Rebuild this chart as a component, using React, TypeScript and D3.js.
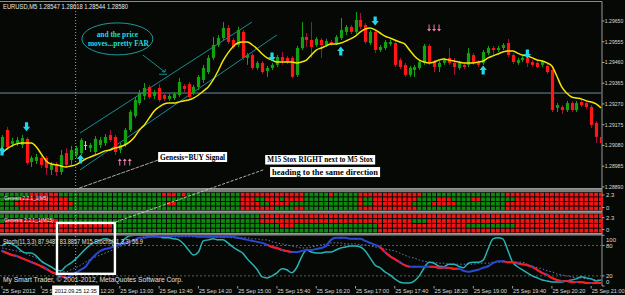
import React from "react";
import * as d3 from "d3";

// ---------- DATA ----------
const symbolHeader = "EURUSD,M5  1.28547 1.28618 1.28544 1.28580";
const priceTicks = [1.2965, 1.29555, 1.2946, 1.29365, 1.2927, 1.29175, 1.2908, 1.28985, 1.2889];
const timeLabels = [
  "25 Sep 2012", "25 Sep 11:40", "25 Sep 12:20", "25 Sep 13:00", "25 Sep 13:40", "25 Sep 14:20",
  "25 Sep 15:00", "25 Sep 15:40", "25 Sep 16:20", "25 Sep 17:00", "25 Sep 17:40", "25 Sep 18:20",
  "25 Sep 19:00", "25 Sep 19:40", "25 Sep 20:20", "25 Sep 21:00",
];
const timeLabelBars = [0, 8, 16, 24, 32, 40, 48, 56, 64, 72, 80, 88, 96, 104, 112, 120];

const opens = [
  1.29073, 1.29151, 1.29087, 1.29091, 1.29082, 1.2911, 1.29004, 1.29009, 1.29023, 1.29023,
  1.28968, 1.28995, 1.28958, 1.29045, 1.29013, 1.29036, 1.29045, 1.29082, 1.29068, 1.2905,
  1.29082, 1.29091, 1.29128, 1.29119, 1.29059, 1.29082, 1.29151, 1.29215, 1.29274, 1.29307,
  1.29348, 1.29307, 1.29343, 1.29311, 1.29293, 1.29297, 1.29311, 1.29352, 1.29361, 1.2932,
  1.29348, 1.2938, 1.29416, 1.29481, 1.2954, 1.29572, 1.29618, 1.29563, 1.2954, 1.296,
  1.29481, 1.29494, 1.29435, 1.29458, 1.29421, 1.29435, 1.29449, 1.29485, 1.29481, 1.29481,
  1.29403, 1.29526, 1.29577, 1.29563, 1.2954, 1.29563, 1.2954, 1.29554, 1.29549, 1.29572,
  1.296, 1.29623, 1.296, 1.29655, 1.29632, 1.29549, 1.296, 1.29517, 1.29526, 1.29545,
  1.29549, 1.29471, 1.29449, 1.29403, 1.29426, 1.29435, 1.29458, 1.29536, 1.29462, 1.29439,
  1.29458, 1.29481, 1.29458, 1.29435, 1.29449, 1.29449, 1.29494, 1.29462, 1.29458, 1.29503,
  1.29526, 1.29517, 1.29526, 1.29549, 1.29494, 1.29458, 1.29471, 1.29481, 1.29462, 1.29458,
  1.29449, 1.29444, 1.29426, 1.29252, 1.29256, 1.29242, 1.29274, 1.29242, 1.29279, 1.29274,
  1.29256, 1.29183, 1.29119,
];
const highs = [
  1.29128, 1.29165, 1.29114, 1.29119, 1.29128, 1.29119, 1.29032, 1.29041, 1.29032, 1.29032,
  1.29004, 1.29004, 1.29059, 1.29068, 1.29078, 1.29078, 1.29114, 1.291, 1.29091, 1.29123,
  1.29119, 1.29132, 1.29151, 1.29128, 1.29091, 1.2916, 1.29242, 1.29302, 1.29334, 1.29366,
  1.29357, 1.29334, 1.29361, 1.2932, 1.29316, 1.29325, 1.29389, 1.29361, 1.29371, 1.29357,
  1.29403, 1.29449, 1.29494, 1.29577, 1.29586, 1.29645, 1.29632, 1.29572, 1.29623, 1.29609,
  1.29503, 1.29503, 1.29467, 1.29467, 1.29444, 1.29458, 1.29494, 1.29508, 1.2949, 1.2949,
  1.29536, 1.29645, 1.29595, 1.29645, 1.29577, 1.29572, 1.29568, 1.29563, 1.29586, 1.29664,
  1.29632, 1.29632, 1.29691, 1.29687, 1.29641, 1.29609, 1.29609, 1.2954, 1.29563, 1.29563,
  1.29558, 1.29481, 1.29458, 1.29444, 1.29449, 1.29471, 1.29545, 1.29545, 1.29471, 1.29467,
  1.29481, 1.29526, 1.29481, 1.29467, 1.29458, 1.29526, 1.29503, 1.29471, 1.29517, 1.29536,
  1.29536, 1.29536, 1.29549, 1.29568, 1.29503, 1.29481, 1.2949, 1.2949, 1.29471, 1.29467,
  1.29471, 1.29453, 1.29435, 1.29274, 1.29265, 1.29284, 1.29284, 1.29284, 1.29288, 1.29284,
  1.29265, 1.29192, 1.29128,
];
const lows = [
  1.29059, 1.29059, 1.29073, 1.29078, 1.29068, 1.28991, 1.28981, 1.28995, 1.28977, 1.28945,
  1.28945, 1.2894, 1.28945, 1.28977, 1.28991, 1.29023, 1.29036, 1.29059, 1.2905, 1.29036,
  1.29068, 1.29078, 1.29096, 1.29036, 1.29045, 1.29073, 1.29142, 1.29206, 1.29265, 1.29288,
  1.29293, 1.29293, 1.29279, 1.29284, 1.29284, 1.29288, 1.29302, 1.29325, 1.29293, 1.29311,
  1.29334, 1.29366, 1.29407, 1.29471, 1.29531, 1.29563, 1.29545, 1.29522, 1.29531, 1.29471,
  1.29449, 1.29426, 1.29426, 1.29407, 1.29394, 1.29426, 1.29439, 1.29449, 1.29453, 1.29389,
  1.29394, 1.29517, 1.29531, 1.29481, 1.29531, 1.29481, 1.29531, 1.29536, 1.2954, 1.29563,
  1.29586, 1.2959, 1.2959, 1.29613, 1.29545, 1.2954, 1.29503, 1.29508, 1.29517, 1.29536,
  1.29439, 1.2943, 1.29394, 1.29394, 1.29394, 1.29426, 1.29449, 1.29449, 1.29416, 1.29416,
  1.29449, 1.29449, 1.29403, 1.29426, 1.2943, 1.29439, 1.29449, 1.29439, 1.29449, 1.29494,
  1.29494, 1.29508, 1.29517, 1.29485, 1.29453, 1.29449, 1.29462, 1.29439, 1.29439, 1.29435,
  1.29439, 1.29407, 1.29233, 1.29233, 1.29224, 1.29233, 1.29233, 1.29233, 1.29256, 1.29247,
  1.2916, 1.29091, 1.29082,
];
const closes = [
  1.29119, 1.29073, 1.291, 1.29105, 1.29114, 1.29, 1.29023, 1.29027, 1.28991, 1.28977,
  1.28991, 1.28958, 1.29036, 1.28991, 1.29059, 1.29068, 1.29105, 1.29082, 1.29082, 1.2911,
  1.29105, 1.29119, 1.29105, 1.2905, 1.29082, 1.29151, 1.29233, 1.29288, 1.2932, 1.29343,
  1.29302, 1.29325, 1.29288, 1.29293, 1.29307, 1.29316, 1.29371, 1.29339, 1.29302, 1.29348,
  1.29394, 1.29435, 1.29481, 1.2954, 1.29572, 1.29618, 1.29554, 1.29531, 1.29609, 1.29481,
  1.29494, 1.29435, 1.29458, 1.29416, 1.29435, 1.29449, 1.29485, 1.29467, 1.29462, 1.29394,
  1.29526, 1.29577, 1.29563, 1.29531, 1.29568, 1.2954, 1.29558, 1.29545, 1.29577, 1.29609,
  1.29623, 1.296, 1.29655, 1.29623, 1.29554, 1.296, 1.29517, 1.29531, 1.29554, 1.29554,
  1.29449, 1.29439, 1.29403, 1.29435, 1.29439, 1.29462, 1.29536, 1.29458, 1.29439, 1.29458,
  1.29471, 1.29458, 1.29439, 1.29458, 1.29439, 1.29503, 1.29458, 1.29449, 1.29508, 1.29526,
  1.29517, 1.29526, 1.2954, 1.29494, 1.29462, 1.29471, 1.29481, 1.29458, 1.29449, 1.29439,
  1.29462, 1.29416, 1.29242, 1.29265, 1.29242, 1.29274, 1.29242, 1.29274, 1.29265, 1.29256,
  1.29174, 1.29119, 1.29091,
];
const maValues = [
  1.29045, 1.29064, 1.29078, 1.29087, 1.29091, 1.29091, 1.29091, 1.29073, 1.29041, 1.29009,
  1.28995, 1.28991, 1.28986, 1.28981, 1.28986, 1.28991, 1.29004, 1.29018, 1.29027, 1.29036,
  1.29045, 1.29055, 1.29059, 1.29068, 1.29073, 1.29082, 1.29096, 1.29119, 1.29151, 1.29174,
  1.29206, 1.29238, 1.29256, 1.2927, 1.29274, 1.29274, 1.29279, 1.29284, 1.29288, 1.29297,
  1.29311, 1.29329, 1.29348, 1.2938, 1.29421, 1.29467, 1.29503, 1.29531, 1.29549, 1.29554,
  1.29554, 1.2954, 1.29522, 1.29499, 1.29481, 1.29471, 1.29462, 1.29462, 1.29462, 1.29462,
  1.29458, 1.29462, 1.29471, 1.29494, 1.29517, 1.29526, 1.29536, 1.29545, 1.29545, 1.29549,
  1.29558, 1.29568, 1.29581, 1.296, 1.29613, 1.29618, 1.29609, 1.29595, 1.29581, 1.29572,
  1.29563, 1.29554, 1.29545, 1.29517, 1.2949, 1.29471, 1.29462, 1.29458, 1.29462, 1.29471,
  1.29476, 1.29471, 1.29467, 1.29462, 1.29458, 1.29458, 1.29458, 1.29462, 1.29467, 1.29481,
  1.2949, 1.29499, 1.29508, 1.29513, 1.29513, 1.29503, 1.29494, 1.2949, 1.29481, 1.29471,
  1.29467, 1.29458, 1.29444, 1.29398, 1.29348, 1.2932, 1.29302, 1.29297, 1.29293, 1.29284,
  1.29279, 1.2927, 1.29252,
];
const askLine = 1.2932;

// cyan signal arrows (bar index, price)
const arrowDownBars = [5, 55, 76, 107];
const arrowDownPrices = [1.29165, 1.29485, 1.2965, 1.29499];
const arrowUpBars = [0, 16, 69, 98];
const arrowUpPrices = [1.29055, 1.29018, 1.29513, 1.29426];

// trend channel (bar, price)
const channelUpper = [[15.9, 1.29137], [50.9, 1.29645]];
const channelLower = [[15.9, 1.28968], [56.0, 1.29586]];

// Genesis panels: red cell ranges per row (others green)
const genesisM5Red = [
  [[6, 11], [33, 35], [37, 37], [49, 61], [67, 67], [73, 85], [103, 122]],
  [[4, 13], [49, 51], [54, 56], [58, 61], [73, 73], [76, 84], [89, 91], [96, 97], [105, 122]],
  [[3, 14], [34, 35], [49, 52], [55, 58], [73, 73], [76, 83], [88, 92], [103, 122]],
  [[4, 13], [49, 55], [60, 61], [73, 84], [103, 122]],
];
const genesisM15Red = [
  [[53, 122]],
  [[1, 11], [53, 83], [87, 122]],
  [[0, 22], [57, 59], [77, 94], [105, 122]],
  [[0, 22], [77, 122]],
];

// Stochastics
const stochMain = [
  79, 85, 83, 77, 69, 65, 65, 59, 49, 43, 38, 32, 30, 39, 45, 53, 63, 73, 81, 87,
  91, 93, 91, 85, 83, 93, 99, 100, 100, 100, 99, 99, 97, 95, 95, 93, 91, 83, 71, 61,
  67, 89, 91, 93, 91, 91, 85, 77, 71, 65, 53, 43, 32, 18, 16, 20, 26, 34, 32, 26,
  36, 57, 71, 67, 65, 65, 67, 67, 71, 75, 77, 79, 79, 77, 69, 55, 41, 36, 28, 22,
  14, 8, 6, 6, 10, 20, 36, 47, 45, 39, 38, 43, 43, 39, 36, 45, 47, 47, 51, 73,
  93, 95, 93, 71, 47, 38, 32, 26, 20, 16, 12, 10, 8, 8, 8, 10, 12, 14, 18, 16,
  14, 10, 12,
];
const stochM15 = [
  69, 65, 61, 59, 55, 51, 47, 43, 39, 34, 28, 24, 20, 16, 20, 26, 32, 38, 51, 61,
  69, 73, 75, 79, 81, 85, 87, 91, 95, 95, 97, 97, 97, 99, 99, 99, 99, 99, 99, 99,
  97, 97, 97, 97, 97, 97, 97, 97, 95, 93, 91, 89, 87, 85, 81, 77, 75, 71, 69, 67,
  67, 69, 71, 71, 73, 75, 79, 91, 95, 95, 95, 93, 93, 93, 89, 85, 81, 77, 67, 59,
  53, 47, 41, 38, 38, 38, 38, 38, 38, 36, 36, 36, 34, 34, 30, 28, 30, 32, 36, 39,
  45, 49, 49, 47, 47, 45, 43, 41, 38, 32, 26, 22, 16, 12, 10, 10, 8, 8, 8, 6,
  6, 6, 6,
];
const stochSignal = [
  75, 73, 71, 69, 67, 63, 59, 55, 49, 43, 38, 32, 28, 28, 32, 36, 41, 47, 53, 57,
  61, 65, 69, 73, 77, 83, 87, 91, 95, 97, 97, 97, 97, 97, 97, 97, 97, 97, 97, 97,
  97, 97, 97, 96, 96, 96, 96, 95, 95, 95, 95, 93, 93, 91, 91, 87, 85, 83, 81, 79,
  77, 75, 75, 77, 79, 81, 83, 85, 85, 85, 83, 83, 83, 81, 81, 79, 77, 75, 73, 71,
  69, 65, 61, 57, 55, 51, 49, 47, 47, 45, 45, 43, 43, 43, 43, 43, 43, 45, 45, 45,
  47, 47, 47, 47, 47, 47, 47, 43, 39, 36, 34, 30, 28, 24, 22, 20, 18, 16, 16, 14,
  14, 12, 12,
];
const stochM15Falling = [[0, 13], [54, 59], [77, 83], [87, 93], [102, 122]];
const stochLevels = [100, 80, 20, 0];
const stochTitle = "Stoch(11,3,3) 87.9487 83.8857  M15 Stochs(11,3,3) 56.9";
const copyright = "My Smart Trader, \u00a9 2001-2012, MetaQuotes Software Corp.";

// ---------- COMPONENT ----------
const SANS = "'Liberation Sans', Arial, sans-serif";
const SERIF = "'Liberation Serif', 'Times New Roman', serif";

export default function App() {
  const N = opens.length;
  const idx = d3.range(N);
  const xs = d3.scaleLinear().domain([0, 122]).range([2, 601]);
  const yp = d3.scaleLinear().domain([1.28885, 1.29737]).range([188, 2]);
  const ys = d3.scaleLinear().domain([0, 100]).range([286, 235.3]);
  const g1 = d3.scaleLinear().domain([0, 2.3]).range([207.5, 195]);
  const g2 = d3.scaleLinear().domain([0, 2.3]).range([229.5, 217.7]);

  const maLine = d3.line<number>().x((_, i) => xs(i)).y((d) => yp(d)).curve(d3.curveMonotoneX)(maValues) || "";
  const stLine = (arr: number[], off = 0) =>
    d3.line<number>().x((_, i) => xs(i + off)).y((d) => ys(d)).curve(d3.curveMonotoneX)(arr) || "";

  const BG = "#050805";
  const green = "#13a013";
  const red = "#ff1616";

  const downArrow = (cx: number, cy: number) =>
    `M${cx - 1.6},${cy - 4.5}H${cx + 1.6}V${cy}H${cx + 3.6}L${cx},${cy + 4.5}L${cx - 3.6},${cy}H${cx - 1.6}Z`;
  const upArrow = (cx: number, cy: number) =>
    `M${cx - 1.6},${cy + 4.5}H${cx + 1.6}V${cy}H${cx + 3.6}L${cx},${cy - 4.5}L${cx - 3.6},${cy}H${cx - 1.6}Z`;
  const pinkArrow = (cx: number, cy: number, up: boolean) => {
    const s = up ? 1 : -1;
    return `M${cx - 0.5},${cy + 3.5 * s}V${cy - 1 * s}H${cx - 2}L${cx},${cy - 3.5 * s}L${cx + 2},${cy - 1 * s}H${cx + 0.5}V${cy + 3.5 * s}Z`;
  };

  const inRanges = (ranges: number[][], i: number) => ranges.some(([a, b]) => i >= a && i <= b);

  const genesisPanels = [
    { top: 192.3, rowH: 4.6, red: genesisM5Red, scale: g1, label: "Genesis 2.2.1_1(M5)", lw: 44, ly: 200.2 },
    { top: 213.8, rowH: 4.8, red: genesisM15Red, scale: g2, label: "Genesis 2.2.1_1(M15)", lw: 50, ly: 221.5 },
  ];
  const separators = [[188.2, 192.2], [210.8, 213.8], [233.2, 235.6]];

  // annotation anchors
  const crossBar = 15;
  const ellipse = { i: 23.5, p: 1.29568 };
  const pointerFrom = { i: 28.7, p: 1.29494 };
  const pointerTo = { i: 33.2, p: 1.29416 };
  const pinkUp = { i: 25, p: 1.29004 };
  const pinkDown = { i: 88, p: 1.29618 };
  const boxes = [
    { i: 31.8, p: 1.2905, w: 69, h: 10, text: "Genesis=BUY Signal" },
    { i: 53.6, p: 1.29036, w: 110, h: 9.5, text: "M15 Stox RIGHT next to M5 Stox" },
    { i: 54.6, p: 1.28981, w: 110, h: 10, text: "heading to the same direction" },
  ];
  const link1 = [{ i: 31.8, p: 1.29013 }, { i: 15.3, p: 1.28881 }];
  const link2 = [{ i: 53.2, p: 1.28968 }, { i: 22.6, p: 1.28725 }];
  const frame = { i0: 11.2, i1: 23, p: 1.28725, v: 24 };

  const ex = xs(ellipse.i), ey = yp(ellipse.p);
  const px1 = xs(pointerFrom.i), py1 = yp(pointerFrom.p), px2 = xs(pointerTo.i), py2 = yp(pointerTo.p);
  const crossX = xs(crossBar);

  return (
    <svg width={625} height={295} style={{ position: "fixed", left: 0, top: 0, background: BG }}
      xmlns="http://www.w3.org/2000/svg">
      <defs>
        <clipPath id="clipMain"><rect x={0} y={2} width={601.5} height={186} /></clipPath>
        <clipPath id="clipStoch"><rect x={0} y={235.6} width={601.5} height={50.4} /></clipPath>
        <clipPath id="clipLeftOfCross"><rect x={0} y={280} width={crossX - 23.5} height={15} /></clipPath>
        <clipPath id="clipRightOfCross"><rect x={crossX + 23.5} y={280} width={200} height={15} /></clipPath>
      </defs>
      <rect x={0} y={0} width={625} height={295} fill={BG} />

      {/* frame lines */}
      <line x1={0} x2={602} y1={1.5} y2={1.5} stroke="#8a8a8a" strokeWidth={1} />
      <line x1={602} x2={602} y1={1.5} y2={286} stroke="#9a9a9a" strokeWidth={1} />

      {/* ===== MAIN PRICE CHART ===== */}
      <g clipPath="url(#clipMain)">
        <line x1={0} x2={601.5} y1={yp(askLine)} y2={yp(askLine)} stroke="#7189aa" strokeWidth={1} />
        {[channelUpper, channelLower].map((c, k) => (
          <line key={k} x1={xs(c[0][0])} y1={yp(c[0][1])} x2={xs(c[1][0])} y2={yp(c[1][1])}
            stroke="#1f9aa3" strokeWidth={0.9} />
        ))}
        {idx.map((i) => {
          const o = opens[i], c = closes[i];
          const bull = c > o, doji = c === o;
          const body = doji ? "#c8c8c8" : bull ? green : red;
          const wick = doji ? "#c8c8c8" : bull ? green : "#a3123e";
          const cx = Math.round(xs(i)) + 0.5;
          const top = yp(Math.max(o, c)), bot = yp(Math.min(o, c));
          return (
            <g key={i}>
              <line x1={cx} x2={cx} y1={yp(highs[i])} y2={yp(lows[i])} stroke={wick} strokeWidth={1} />
              <rect x={cx - 1.6} y={top} width={3.2} height={Math.max(1, bot - top)} fill={body} />
            </g>
          );
        })}
        <path d={maLine} fill="none" stroke="#f2e600" strokeWidth={1.5} />
        {arrowDownBars.map((b, k) => (
          <path key={"d" + k} d={downArrow(xs(b), yp(arrowDownPrices[k]))} fill="#22d8e6" />
        ))}
        {arrowUpBars.map((b, k) => (
          <path key={"u" + k} d={upArrow(xs(b), yp(arrowUpPrices[k]))} fill="#22d8e6" />
        ))}
        {[-1, 0, 1].map((k) => (
          <path key={"pu" + k} d={pinkArrow(xs(pinkUp.i) + k * 5, yp(pinkUp.p), true)} fill="#ee7fb2" />
        ))}
        {[-1, 0, 1].map((k) => (
          <path key={"pd" + k} d={pinkArrow(xs(pinkDown.i) + k * 5, yp(pinkDown.p), false)} fill="#ee7fb2" />
        ))}
        <ellipse cx={ex} cy={ey} rx={35.5} ry={16} fill="none" stroke="#1d9a9e" strokeWidth={1} />
        <text x={ex} y={ey - 1.5} textAnchor="middle" fontFamily={SERIF} fontWeight="bold" fontSize={7.4}
          fill="#22dcdc">and the price</text>
        <text x={ex + 1} y={ey + 6.7} textAnchor="middle" fontFamily={SERIF} fontWeight="bold" fontSize={7.4}
          fill="#22dcdc">moves...pretty FAR</text>
        <line x1={px1} y1={py1} x2={px2} y2={py2} stroke="#1d9a9e" strokeWidth={0.9} />
        <path d={`M${px2 - 3},${py2 - 0.5}L${px2},${py2}L${px2 + 0.3},${py2 - 3}`} fill="none" stroke="#1d9a9e" strokeWidth={0.9} />
        <line x1={px2 - 6} x2={px2 + 2} y1={py2 + 2.2} y2={py2 + 2.2} stroke="#1d9a9e" strokeWidth={0.9} />
      </g>

      {/* price axis */}
      {priceTicks.map((p) => (
        <g key={p}>
          <line x1={602} x2={604.5} y1={yp(p)} y2={yp(p)} stroke="#a0a0a0" />
          <text x={604.8} y={yp(p) + 2} fontFamily={SANS} fontSize={5.3} fill="#dcdcdc" textLength={18.5}
            lengthAdjust="spacingAndGlyphs">{p.toFixed(5)}</text>
        </g>
      ))}
      <text x={3} y={8.5} fontFamily={SANS} fontSize={6.4} fill="#e8e8e8" textLength={125}
        lengthAdjust="spacingAndGlyphs">{symbolHeader}</text>

      {/* ===== SEPARATORS ===== */}
      {separators.map(([a, b], k) => (
        <g key={k}>
          <rect x={0} y={a} width={602} height={b - a} fill="#7a7a7a" />
          <line x1={0} x2={602} y1={a + 0.5} y2={a + 0.5} stroke="#a4a4a4" />
        </g>
      ))}

      {/* ===== GENESIS PANELS ===== */}
      {genesisPanels.map((gp, k) => (
        <g key={k}>
          {gp.red.map((ranges, r) =>
            idx.map((i) => (
              <rect key={r + "-" + i} x={xs(i) - 1.95} y={gp.top + r * gp.rowH + 0.5} width={3.9}
                height={gp.rowH - 1} fill={inRanges(ranges, i) ? "#f51212" : "#0d8a0d"} />
            ))
          )}
          <text x={4} y={gp.ly} fontFamily={SANS} fontSize={6} fill="#f0f0f0" textLength={gp.lw}
            lengthAdjust="spacingAndGlyphs">{gp.label}</text>
          {[2.3, 0].map((v) => (
            <g key={v}>
              <line x1={602} x2={604.5} y1={gp.scale(v)} y2={gp.scale(v)} stroke="#a0a0a0" />
              <text x={606} y={gp.scale(v) + 2.2} fontFamily={SANS} fontSize={6} fill="#dcdcdc">{String(v)}</text>
            </g>
          ))}
        </g>
      ))}

      {/* ===== STOCH PANEL ===== */}
      <g clipPath="url(#clipStoch)">
        {[80, 20].map((v) => (
          <line key={v} x1={0} x2={601.5} y1={ys(v)} y2={ys(v)} stroke="#5e5e5e" strokeDasharray="2,2" />
        ))}
        <path d={stLine(stochSignal)} fill="none" stroke="#6a7cae" strokeWidth={1} strokeDasharray="1.5,2" />
        <path d={stLine(stochMain)} fill="none" stroke="#27b3b3" strokeWidth={1.5} />
        <path d={stLine(stochM15)} fill="none" stroke="#2a48d0" strokeWidth={2} />
        {stochM15Falling.map(([a, b], k) => (
          <path key={k} d={stLine(stochM15.slice(a, b + 1), a)} fill="none" stroke="#ff1a1a" strokeWidth={2} />
        ))}
        {idx.filter((i) => i % 3 === 0).map((i) => (
          <rect key={i} x={xs(i) - 1} y={ys(stochM15[i]) - 1} width={2} height={2} fill="#2a48d0" />
        ))}
      </g>
      {stochLevels.map((v) => {
        const yy = Math.min(281.5, Math.max(239.3, ys(v)));
        return (
          <g key={v}>
            <line x1={602} x2={604.5} y1={ys(v)} y2={ys(v)} stroke="#a0a0a0" />
            <text x={606} y={yy + 2.2} fontFamily={SANS} fontSize={6} fill="#dcdcdc">{String(v)}</text>
          </g>
        );
      })}
      <text x={3} y={244} fontFamily={SANS} fontSize={6.3} fill="#e0e0e0" textLength={140}
        lengthAdjust="spacingAndGlyphs">{stochTitle}</text>
      <text x={3} y={281.5} fontFamily={SANS} fontSize={6.4} fill="#e0e0e0" textLength={180}
        lengthAdjust="spacingAndGlyphs">{copyright}</text>

      {/* ===== TIME AXIS ===== */}
      {timeLabels.map((t, k) => {
        const lx = xs(timeLabelBars[k]);
        const hidden = lx < crossX + 23.5 && lx + 33 > crossX - 23.5;
        const clip = !hidden ? undefined : lx < crossX ? "url(#clipLeftOfCross)" : "url(#clipRightOfCross)";
        return (
          <g key={t} clipPath={clip}>
            <line x1={lx} x2={lx} y1={286} y2={288.5} stroke="#a0a0a0" />
            <text x={lx + 0.5} y={292.5} fontFamily={SANS} fontSize={6} fill="#dcdcdc"
              textLength={33} lengthAdjust="spacingAndGlyphs">{t}</text>
          </g>
        );
      })}

      {/* ===== CROSSHAIR ===== */}
      <line x1={crossX} x2={crossX} y1={2} y2={286} stroke="#b4b4b4" strokeWidth={0.9}
        strokeDasharray="1,2" />
      <rect x={crossX - 23.5} y={285.5} width={47} height={9.5} fill="#ffffff" />
      <text x={crossX} y={292.6} textAnchor="middle" fontFamily={SANS} fontSize={6} fill="#000"
        textLength={42} lengthAdjust="spacingAndGlyphs">2012.09.25 12:35</text>

      {/* ===== ANNOTATIONS ===== */}
      <line x1={xs(link1[0].i)} y1={yp(link1[0].p)} x2={xs(link1[1].i)} y2={yp(link1[1].p)}
        stroke="#cfcfcf" strokeWidth={0.8} strokeDasharray="4,1" />
      <line x1={xs(link2[0].i)} y1={yp(link2[0].p)} x2={xs(link2[1].i)} y2={yp(link2[1].p)}
        stroke="#d8d8d8" strokeWidth={0.8} strokeDasharray="3,1.5" />
      {boxes.map((b) => (
        <g key={b.text}>
          <rect x={xs(b.i)} y={yp(b.p)} width={b.w} height={b.h} fill="#ffffff" />
          <text x={xs(b.i) + b.w / 2} y={yp(b.p) + b.h - 2.4} textAnchor="middle" fontFamily={SERIF}
            fontWeight="bold" fontSize={7.3} fill="#000" textLength={b.w - 4} lengthAdjust="spacingAndGlyphs">
            {b.text}
          </text>
        </g>
      ))}
      <rect x={xs(frame.i0)} y={yp(frame.p)} width={xs(frame.i1) - xs(frame.i0)}
        height={ys(frame.v) - yp(frame.p)} fill="none" stroke="#ffffff" strokeWidth={2.4} />
    </svg>
  );
}
